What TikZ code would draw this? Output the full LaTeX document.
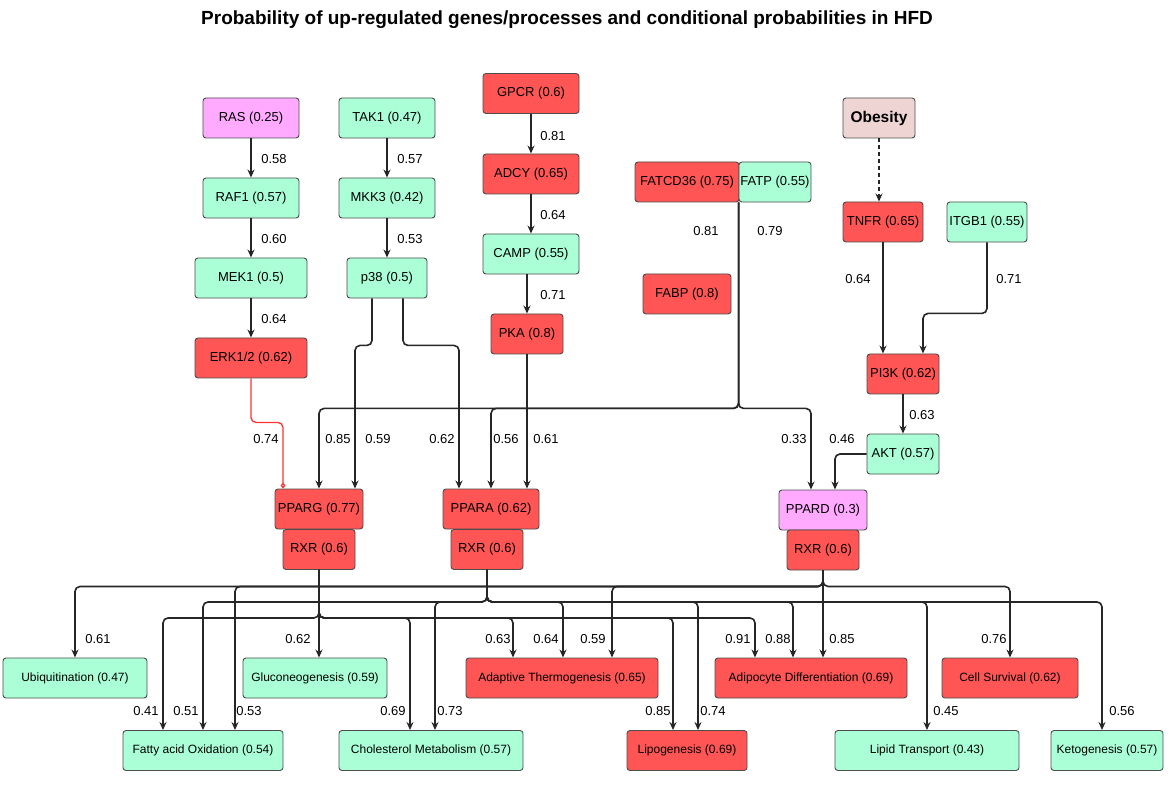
\documentclass[tikz,border=0pt]{standalone}
\usepackage{fontspec}
\setmainfont{Liberation Sans}
\usetikzlibrary{arrows.meta}
\definecolor{nred}{HTML}{FF5555}
\definecolor{ngreen}{HTML}{AAFFD6}
\definecolor{npink}{HTML}{FFAAFF}
\definecolor{nobes}{HTML}{EFD4D4}
\definecolor{edgec}{HTML}{262626}
\definecolor{bord}{HTML}{4D4D4D}
\definecolor{redline}{HTML}{FF3333}
\begin{document}
\begin{tikzpicture}[x=1pt,y=-1pt,
  box/.style={draw=bord, line width=0.9pt, rounded corners=3pt, minimum height=40pt, inner sep=0pt, font=\fontsize{13}{15}\selectfont, text=black},
  bbox/.style={box, font=\fontsize{12}{14}\selectfont},
  nr/.style={fill=nred},
  ng/.style={fill=ngreen},
  np/.style={fill=npink},
  wd/.style={minimum width=#1},
  lbl/.style={font=\fontsize{13}{15}\selectfont, inner sep=0pt, text=black},
  arr/.style={draw=edgec, line width=1.6pt, rounded corners=5pt, -{Stealth[length=8pt,width=7pt]}},
  redarr/.style={draw=redline, line width=1.3pt, rounded corners=5pt, -{Diamond[open,length=6pt,width=5pt]}},
  dasharr/.style={draw=edgec, line width=1.6pt, dash pattern=on 4pt off 3pt, -{Stealth[length=8pt,width=7pt]}}
]
\fill[white] (0,0) rectangle (1168,786);
\useasboundingbox (0,0) rectangle (1168,786);

\node[font=\bfseries\fontsize{19}{22}\selectfont, inner sep=0pt] (title) at (567,20) {Probability of up-regulated genes/processes and conditional probabilities in HFD};

% top nodes
\node[box,np,wd=96] (ras) at (251,118) {RAS (0.25)};
\node[box,ng,wd=96] (raf1) at (251,198) {RAF1 (0.57)};
\node[box,ng,wd=112] (mek1) at (251,278) {MEK1 (0.5)};
\node[box,nr,wd=112] (erk) at (251,358) {ERK1/2 (0.62)};
\node[box,ng,wd=96] (tak1) at (387,118) {TAK1 (0.47)};
\node[box,ng,wd=96] (mkk3) at (387,198) {MKK3 (0.42)};
\node[box,ng,wd=80] (p38) at (387,278) {p38 (0.5)};
\node[box,nr,wd=96] (gpcr) at (531,93.5) {GPCR (0.6)};
\node[box,nr,wd=96] (adcy) at (531,174) {ADCY (0.65)};
\node[box,ng,wd=96] (camp) at (531,254) {CAMP (0.55)};
\node[box,nr,wd=72] (pka) at (527,334) {PKA (0.8)};
\node[box,nr,wd=104] (fatcd) at (687,182) {FATCD36 (0.75)};
\node[box,ng,wd=72] (fatp) at (775,182) {FATP (0.55)};
\node[box,nr,wd=88] (fabp) at (687,294) {FABP (0.8)};
\node[box,fill=nobes,wd=72,font=\bfseries\fontsize{15.5}{18}\selectfont] (obes) at (879,118) {Obesity};
\node[box,nr,wd=80] (tnfr) at (883,222) {TNFR (0.65)};
\node[box,ng,wd=80] (itgb1) at (987,222) {ITGB1 (0.55)};
\node[box,nr,wd=72] (pi3k) at (903,374) {PI3K (0.62)};
\node[box,ng,wd=72] (akt) at (903,454) {AKT (0.57)};
\node[box,nr,wd=88] (pparg) at (319,509) {PPARG (0.77)};
\node[box,nr,wd=72] (rxr1) at (319,549.5) {RXR (0.6)};
\node[box,nr,wd=96] (ppara) at (491,509) {PPARA (0.62)};
\node[box,nr,wd=72] (rxr2) at (487,549.5) {RXR (0.6)};
\node[box,np,wd=88] (ppard) at (823,510) {PPARD (0.3)};
\node[box,nr,wd=72] (rxr3) at (823,550) {RXR (0.6)};

% bottom nodes
\node[bbox,ng,wd=144] (ubiq) at (75,678) {Ubiquitination (0.47)};
\node[bbox,ng,wd=144] (glu) at (315,678) {Gluconeogenesis (0.59)};
\node[bbox,ng,wd=160] (fao) at (203,750.5) {Fatty acid Oxidation (0.54)};
\node[bbox,ng,wd=184] (chol) at (431,750.5) {Cholesterol Metabolism (0.57)};
\node[bbox,nr,wd=192] (adapt) at (562,678) {Adaptive Thermogenesis (0.65)};
\node[bbox,nr,wd=120] (lipo) at (687,750.5) {Lipogenesis (0.69)};
\node[bbox,nr,wd=192] (adipo) at (811,678) {Adipocyte Differentiation (0.69)};
\node[bbox,nr,wd=136] (cell) at (1010,678) {Cell Survival (0.62)};
\node[bbox,ng,wd=184] (lipid) at (927,750.5) {Lipid Transport (0.43)};
\node[bbox,ng,wd=112] (keto) at (1107,750.5) {Ketogenesis (0.57)};

% top edges
\draw[arr] (ras.south) -- (raf1.north);
\draw[arr] (raf1.south) -- (mek1.north);
\draw[arr] (mek1.south) -- (erk.north);
\draw[redarr] (erk.south) -- ++(0,44) -| ([xshift=-36pt]pparg.north);
\draw[arr] (tak1.south) -- (mkk3.north);
\draw[arr] (mkk3.south) -- (p38.north);
\draw[arr] ([xshift=-15pt]p38.south) -- ++(0,47) -| ([xshift=36pt]pparg.north);
\draw[arr] ([xshift=16pt]p38.south) -- ++(0,47) -| ([xshift=-32pt]ppara.north);
\draw[arr] (gpcr.south) -- (adcy.north);
\draw[arr] (adcy.south) -- (camp.north);
\draw[arr] ([xshift=-4pt]camp.south) -- (pka.north);
\draw[arr] (pka.south) -- ([xshift=36pt]ppara.north);
\draw[arr] (fatp.south west) -- ++(0,206) -| (pparg.north);
\draw[arr] (fatp.south west) -- ++(0,206) -| (ppara.north);
\draw[arr] (fatp.south west) -- ++(0,206) -| ([xshift=-12pt]ppard.north);
\draw[dasharr] (obes.south) -- (obes.south |- tnfr.north);
\draw[arr] (tnfr.south) -- (tnfr.south |- pi3k.north);
\draw[arr] (itgb1.south) -- ++(0,71) -| ([xshift=20pt]pi3k.north);
\draw[arr] (pi3k.south) -- (akt.north);
\draw[arr] (akt.west) -| ([xshift=12pt]ppard.north);

% RXR1 edges
\draw[arr] (rxr1.south) -- ([xshift=4pt]glu.north);
\draw[arr] (rxr1.south) -- ++(0,48) -| ([xshift=-40pt]fao.north);
\draw[arr] (rxr1.south) -- ++(0,48) -| ([xshift=-21pt]chol.north);
\draw[arr] (rxr1.south) -- ++(0,48) -| ([xshift=-49pt]adapt.north);
\draw[arr] (rxr1.south) -- ++(0,48) -| ([xshift=-14pt]lipo.north);
\draw[arr] (rxr1.south) -- ++(0,48) -| ([xshift=-56pt]adipo.north);
% RXR2 edges
\draw[arr] (rxr2.south) -- ++(0,32) -| (fao.north);
\draw[arr] (rxr2.south) -- ++(0,32) -| ([xshift=4pt]chol.north);
\draw[arr] (rxr2.south) -- ++(0,32) -| ([xshift=1pt]adapt.north);
\draw[arr] (rxr2.south) -- ++(0,32) -| ([xshift=11pt]lipo.north);
\draw[arr] (rxr2.south) -- ++(0,32) -| ([xshift=-18pt]adipo.north);
\draw[arr] (rxr2.south) -- ++(0,32) -| (lipid.north);
\draw[arr] (rxr2.south) -- ++(0,32) -| ([xshift=-5pt]keto.north);
% RXR3 edges
\draw[arr] (rxr3.south) -- ++(0,16) -| (ubiq.north);
\draw[arr] (rxr3.south) -- ++(0,16) -| ([xshift=32pt]fao.north);
\draw[arr] (rxr3.south) -- ++(0,16) -| ([xshift=50pt]adapt.north);
\draw[arr] (rxr3.south) -- ([xshift=12pt]adipo.north);
\draw[arr] (rxr3.south) -- ++(0,16) -| (cell.north);

% top labels
\node[lbl] (l1) at (274,159) {0.58};
\node[lbl] (l2) at (274,239) {0.60};
\node[lbl] (l3) at (274,319) {0.64};
\node[lbl] (l4) at (410,159) {0.57};
\node[lbl] (l5) at (410,239) {0.53};
\node[lbl] (l6) at (553,136) {0.81};
\node[lbl] (l7) at (553,215) {0.64};
\node[lbl] (l8) at (553,295) {0.71};
\node[lbl] (l9) at (706,231) {0.81};
\node[lbl] (l10) at (770,231) {0.79};
\node[lbl] (l11) at (858,279) {0.64};
\node[lbl] (l12) at (1009,279) {0.71};
\node[lbl] (l13) at (922,415) {0.63};
\node[lbl] (l14) at (842,439) {0.46};
\node[lbl] (l15) at (794,439) {0.33};
\node[lbl] (l16) at (266,439) {0.74};
\node[lbl] (l17) at (338,439) {0.85};
\node[lbl] (l18) at (378,439) {0.59};
\node[lbl] (l19) at (442,439) {0.62};
\node[lbl] (l20) at (506,439) {0.56};
\node[lbl] (l21) at (546,439) {0.61};
% bottom labels
\node[lbl] (b1) at (98,639) {0.61};
\node[lbl] (b2) at (298,639) {0.62};
\node[lbl] (b3) at (146,711) {0.41};
\node[lbl] (b4) at (186,711) {0.51};
\node[lbl] (b5) at (249,711) {0.53};
\node[lbl] (b6) at (393,711) {0.69};
\node[lbl] (b7) at (450,711) {0.73};
\node[lbl] (b8) at (498,639) {0.63};
\node[lbl] (b9) at (546,639) {0.64};
\node[lbl] (b10) at (593,639) {0.59};
\node[lbl] (b11) at (658,711) {0.85};
\node[lbl] (b12) at (713,711) {0.74};
\node[lbl] (b13) at (738,639) {0.91};
\node[lbl] (b14) at (778,639) {0.88};
\node[lbl] (b15) at (842,639) {0.85};
\node[lbl] (b16) at (994,639) {0.76};
\node[lbl] (b17) at (946,711) {0.45};
\node[lbl] (b18) at (1122,711) {0.56};
\end{tikzpicture}
\end{document}
